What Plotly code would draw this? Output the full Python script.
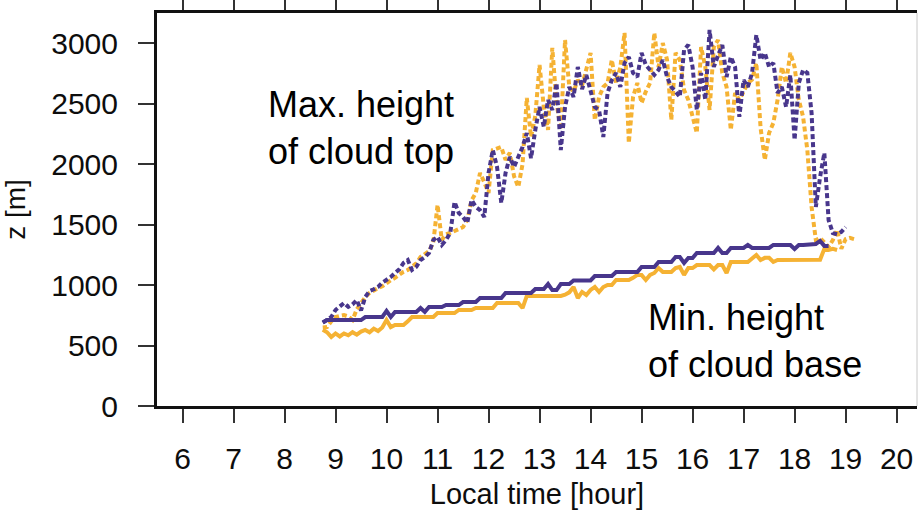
import plotly.graph_objects as go

# sampling grid: 5-minute steps starting at 08:45 local time
t_start = 8.75
n_steps = 126
time_h = [t_start + k / 12 for k in range(n_steps)]

# Max. height of cloud top [m]
top_purple = [690, 711, 736, 794, 820, 852, 820, 840, 877, 790,
              902, 950, 965, 984, 1020, 1040, 1067, 1100, 1130, 1183,
              1207, 1125, 1150, 1207, 1230, 1265, 1373, 1398, 1332, 1373,
              1431, 1687, 1596, 1563, 1514, 1704, 1646, 1620, 1563, 1927,
              2117, 1977, 1679, 1927, 2060, 1977, 2060, 2142, 2258, 2050,
              2283, 2473, 2308, 2531, 2448, 2671, 2117, 2473, 2638, 2556,
              2804, 2620, 2738, 2589, 2473, 2448, 2225, 2589, 2696, 2754,
              2638, 2837, 2887, 2754, 2721, 2920, 2820, 2779, 2738, 2780,
              2862, 2721, 2638, 2600, 2556, 2945, 2986, 2804, 2448, 2754,
              2531, 3110, 2804, 2900, 2986, 2721, 2887, 2804, 2391, 2696,
              2638, 2754, 3068, 2862, 2920, 2804, 2837, 2589, 2638, 2473,
              2738, 2200, 2671, 2779, 2754, 2423, 1646, 1894, 2093, 1538,
              1430, 1420, 1440, 1480, None, None]

top_orange = [650, 653, 700, 736, 745, 752, 740, 711, 800, 852,
              900, 935, 959, 975, 990, 1017, 1040, 1060, 1090, 1110,
              1125, 1150, 1180, 1232, 1255, 1280, 1350, 1663, 1373, 1420,
              1431, 1450, 1470, 1480, 1538, 1700, 1762, 1927, 1850, 1762,
              2117, 2130, 2142, 2035, 2093, 1900, 1811, 2000, 2548, 2225,
              2400, 2820, 2473, 2283, 2961, 2506, 2283, 3027, 2638, 2600,
              2696, 2650, 2800, 2920, 2365, 2556, 2638, 2671, 2862, 2671,
              2800, 3085, 2175, 2556, 2671, 2506, 2600, 2671, 3085, 2804,
              3002, 2862, 2365, 2920, 2862, 2614, 2531, 2400, 2258, 2969,
              2804, 2448, 2969, 3027, 2754, 2638, 2283, 2589, 2531, 2600,
              2671, 2700, 2837, 2300, 2035, 2258, 2341, 2531, 2804, 2671,
              2920, 2804, 2531, 2391, 2117, 1646, 1373, 1390, 1350, 1315,
              1373, 1456, 1300, 1380, 1390, 1380]

# Min. height of cloud base [m]
base_purple = [690, 711, 711, 711, 711, 711, 711, 711, 711, 711,
               736, 736, 736, 736, 736, 786, 736, 778, 778, 778,
               778, 778, 778, 810, 778, 819, 819, 819, 819, 835,
               835, 835, 835, 860, 860, 860, 860, 893, 893, 893,
               893, 893, 893, 935, 935, 935, 935, 935, 935, 935,
               968, 968, 968, 1009, 959, 959, 1009, 1009, 1009, 1038,
               1038, 1038, 1038, 1038, 1075, 1075, 1075, 1075, 1075, 1108,
               1108, 1108, 1108, 1108, 1108, 1150, 1150, 1150, 1150, 1191,
               1191, 1191, 1191, 1232, 1232, 1183, 1224, 1224, 1265, 1265,
               1265, 1265, 1265, 1307, 1265, 1265, 1307, 1307, 1307, 1307,
               1332, 1307, 1307, 1307, 1307, 1307, 1332, 1332, 1332, 1332,
               1332, 1299, 1332, 1332, 1332, 1332, 1340, 1365, 1324, 1324,
               None, None, None, None, None, None]

base_orange = [630, 610, 571, 600, 575, 600, 585, 610, 590, 615,
               629, 610, 640, 620, 650, 711, 653, 670, 670, 670,
               700, 736, 736, 736, 736, 736, 736, 769, 769, 769,
               769, 769, 794, 794, 794, 794, 810, 810, 810, 810,
               810, 852, 852, 852, 852, 852, 852, 810, 910, 910,
               910, 910, 910, 910, 910, 910, 910, 920, 940, 984,
               893, 943, 918, 960, 984, 943, 984, 1001, 1001, 1042,
               1042, 1042, 1042, 1060, 1084, 1084, 1042, 1084, 1100, 1141,
               1108, 1108, 1108, 1141, 1150, 1084, 1141, 1141, 1166, 1166,
               1166, 1166, 1130, 1166, 1166, 1100, 1191, 1191, 1191, 1191,
               1191, 1220, 1249, 1207, 1225, 1225, 1191, 1207, 1207, 1207,
               1207, 1207, 1207, 1207, 1207, 1207, 1207, 1210, 1300, 1290,
               1300, 1290, None, None, None, None]

x_ticks = [6, 7, 8, 9, 10, 11, 12, 13, 14, 15, 16, 17, 18, 19, 20]
y_ticks = [0, 500, 1000, 1500, 2000, 2500, 3000]

PURPLE = "#48368c"
ORANGE = "#f5b233"

fig = go.Figure()
fig.add_trace(go.Scatter(x=time_h, y=top_orange, mode="lines",
                         line=dict(color=ORANGE, width=4, dash="5px,3px")))
fig.add_trace(go.Scatter(x=time_h, y=top_purple, mode="lines",
                         line=dict(color=PURPLE, width=4, dash="5px,3px")))
fig.add_trace(go.Scatter(x=time_h, y=base_orange, mode="lines",
                         line=dict(color=ORANGE, width=4)))
fig.add_trace(go.Scatter(x=time_h, y=base_purple, mode="lines",
                         line=dict(color=PURPLE, width=4)))

fig.add_annotation(x=7.63, y=2295, xref="x", yref="y", xanchor="left", yanchor="middle",
                   align="left", showarrow=False,
                   text="Max. height<br>of cloud top",
                   font=dict(size=36, color="black"))
fig.add_annotation(x=15.08, y=540, xref="x", yref="y", xanchor="left", yanchor="middle",
                   align="left", showarrow=False,
                   text="Min. height<br>of cloud base",
                   font=dict(size=36, color="black"))

fig.add_shape(type="line", xref="paper", yref="paper", x0=1, x1=1, y0=0, y1=1,
              line=dict(color="#c8c8c8", width=1))

fig.update_layout(
    width=918, height=510,
    margin=dict(l=157, r=1, t=13, b=104),
    paper_bgcolor="white", plot_bgcolor="white",
    showlegend=False,
    font=dict(family="Liberation Sans, Arial, Helvetica, sans-serif", color="#0d0d0d"),
)
fig.update_xaxes(
    range=[5.5, 20.4], tickmode="array", tickvals=x_ticks,
    ticks="outside", ticklen=14, tickwidth=1.5, tickcolor="#333333",
    showline=True, linewidth=3, linecolor="#111111", mirror="ticks",
    showgrid=False, zeroline=False, automargin=False,
    tickfont=dict(size=30), ticklabelstandoff=10,
    title=dict(text="Local time [hour]", font=dict(size=29), standoff=14),
)
fig.update_yaxes(
    range=[0, 3250], tickmode="array", tickvals=y_ticks,
    ticks="outside", ticklen=16, tickwidth=1.5, tickcolor="#333333",
    showline=True, linewidth=3, linecolor="#111111", mirror=False,
    showgrid=False, zeroline=False, automargin=False,
    tickfont=dict(size=30), ticklabelstandoff=14,
    title=dict(text="z [m]", font=dict(size=28), standoff=20),
)

# remove the default 8 px page margin so the figure sits at the window's corner
fig.write_html("out.html",
               config={"displayModeBar": False},
               post_script="document.body.style.margin='0px';"
                           "document.body.style.overflow='hidden';")
